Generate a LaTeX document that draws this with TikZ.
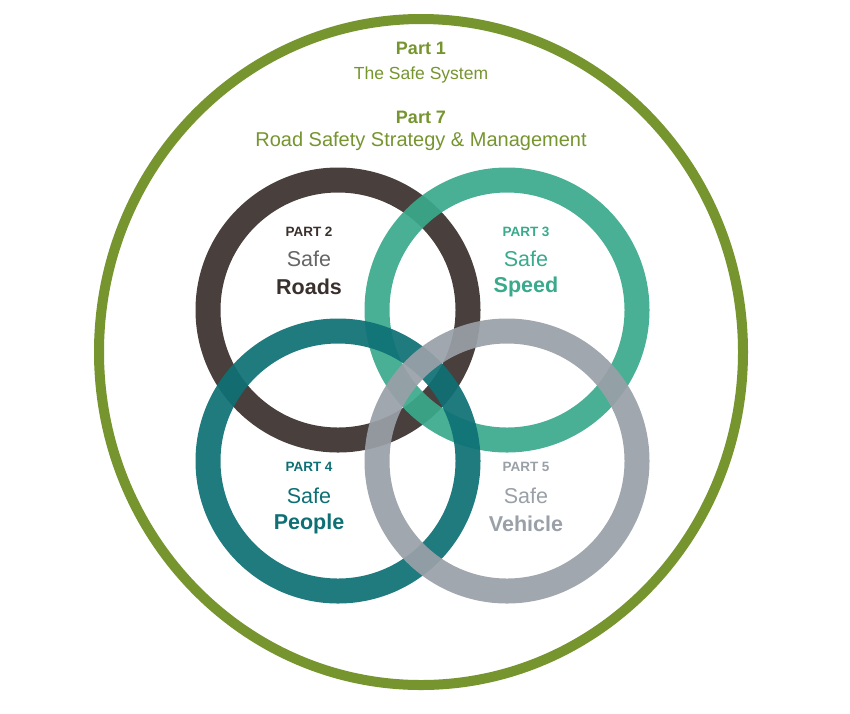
\documentclass[tikz,border=0pt]{standalone}
\usepackage{fontspec}
\setmainfont{Liberation Sans}
\definecolor{cgreen}{HTML}{76952F}
\definecolor{croad}{HTML}{3A302D}
\definecolor{cspeed}{HTML}{3AAA8C}
\definecolor{cpeople}{HTML}{0E7075}
\definecolor{cveh}{HTML}{9AA0A8}
\begin{document}
\begin{tikzpicture}[x=1pt,y=-1pt,
  ring/.style={draw=#1,line width=25pt,draw opacity=0.92},
  lab/.style={text=#1,font=\fontsize{13.5}{13.5}\selectfont\bfseries},
  safe/.style={text=#1,font=\fontsize{21.5}{21.5}\selectfont},
  big/.style={text=#1,font=\fontsize{21.5}{21.5}\selectfont\bfseries},
  gtxt/.style={text=cgreen,font=\fontsize{20}{20}\selectfont}]
\useasboundingbox (0,0) rectangle (850,713);
\fill[white] (0,0) rectangle (850,713);
\draw[cgreen,line width=10pt] (421,352) ellipse [x radius=322, y radius=333];
\draw[ring=croad] (338,310) circle (130);
\draw[ring=cspeed] (507,310) circle (130);
\draw[ring=cpeople] (338,461) circle (130);
\draw[ring=cveh] (507,461) circle (130);
\node[gtxt,font=\fontsize{18}{18}\selectfont\bfseries] (p1) at (421,48) {Part 1};
\node[gtxt,font=\fontsize{17.5}{17.5}\selectfont] (p1t) at (421,75) {The Safe System};
\node[gtxt,font=\fontsize{18}{18}\selectfont\bfseries] (p7) at (421,117) {Part 7};
\node[gtxt] (p7t) at (421,141) {Road Safety Strategy \& Management};
\node[lab=croad] (a1) at (309,232) {PART 2};
\node[safe=black!60] (a2) at (309,259) {Safe};
\node[big=croad] (a3) at (309,287) {Roads};
\node[lab=cspeed] (b1) at (526,232) {PART 3};
\node[safe=cspeed] (b2) at (526,259) {Safe};
\node[big=cspeed] (b3) at (526,287) {Speed};
\node[lab=cpeople] (c1) at (309,467) {PART 4};
\node[safe=cpeople] (c2) at (309,496) {Safe};
\node[big=cpeople] (c3) at (309,524) {People};
\node[lab=cveh] (d1) at (526,467) {PART 5};
\node[safe=cveh] (d2) at (526,496) {Safe};
\node[big=cveh] (d3) at (526,524) {Vehicle};
\end{tikzpicture}
\end{document}
